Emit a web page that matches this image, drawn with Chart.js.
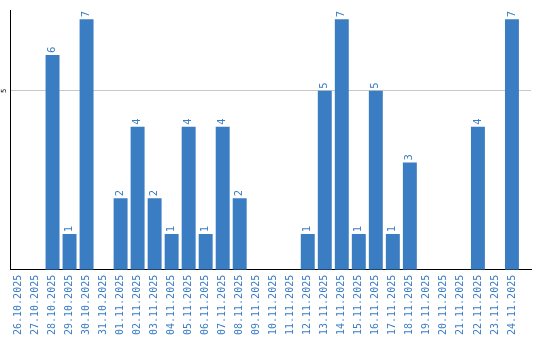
<!DOCTYPE html>
<html><head><meta charset="utf-8">
<script src="https://cdn.jsdelivr.net/npm/chart.js@4/dist/chart.umd.min.js"></script>
<style>html,body{margin:0;padding:0;background:#fff}#wrap{width:540px;height:340px}</style>
</head><body><div id="wrap"><canvas id="c" width="540" height="340"></canvas></div>
<script>
const categories = ["26.10.2025","27.10.2025","28.10.2025","29.10.2025","30.10.2025","31.10.2025","01.11.2025","02.11.2025","03.11.2025","04.11.2025","05.11.2025","06.11.2025","07.11.2025","08.11.2025","09.11.2025","10.11.2025","11.11.2025","12.11.2025","13.11.2025","14.11.2025","15.11.2025","16.11.2025","17.11.2025","18.11.2025","19.11.2025","20.11.2025","21.11.2025","22.11.2025","23.11.2025","24.11.2025"];
const values = [0,0,6,1,7,0,2,4,2,1,4,1,4,2,0,0,0,1,5,7,1,5,1,3,0,0,0,4,0,7];
const yTicks = [5];
const BLUE = '#3b7dc3';

const overlay = {
  id: 'overlay',
  afterDatasetsDraw(chart) {
    const ctx = chart.ctx;
    const meta = chart.getDatasetMeta(0);
    ctx.save();
    ctx.fillStyle = BLUE;
    ctx.font = '10px "DejaVu Sans"';
    ctx.textAlign = 'left';
    ctx.textBaseline = 'middle';
    meta.data.forEach((bar, i) => {
      const v = values[i];
      if (!v) return;
      ctx.save();
      ctx.translate(bar.x, bar.y - 2);
      ctx.rotate(-Math.PI / 2);
      ctx.fillText(String(v), 0, 0);
      ctx.restore();
    });
    const ys = chart.scales.y;
    ctx.fillStyle = '#000';
    ctx.font = '7px "DejaVu Sans"';
    ctx.textAlign = 'center';
    yTicks.forEach(t => {
      ctx.save();
      ctx.translate(4, ys.getPixelForValue(t));
      ctx.rotate(-Math.PI / 2);
      ctx.fillText(String(t), 0, 0);
      ctx.restore();
    });
    ctx.restore();
  }
};

new Chart(document.getElementById('c'), {
  type: 'bar',
  data: { labels: categories, datasets: [{ data: values, backgroundColor: BLUE, categoryPercentage: 0.82, barPercentage: 1.0 }] },
  options: {
    responsive: false, animation: false,
    layout: { padding: { top: 10, right: 9, left: 0, bottom: 0 } },
    plugins: { legend: { display: false }, tooltip: { enabled: false } },
    scales: {
      x: {
        afterBuildTicks: (s) => { s._valueRange = 30.62; },
        grid: { display: false, drawTicks: false },
        border: { color: '#000', width: 1 },
        ticks: { color: BLUE, font: { family: '"DejaVu Sans Mono"', size: 10 }, minRotation: 90, maxRotation: 90, padding: 5, autoSkip: false }
      },
      y: {
        min: 0, max: 7.26,
        afterBuildTicks: (s) => { s.ticks = yTicks.map(v => ({ value: v })); },
        afterFit: (s) => { s.width = 10; },
        grid: { color: '#c8c8c8', drawTicks: false },
        border: { color: '#000', width: 1 },
        ticks: { display: false }
      }
    }
  },
  plugins: [overlay]
});
</script></body></html>
